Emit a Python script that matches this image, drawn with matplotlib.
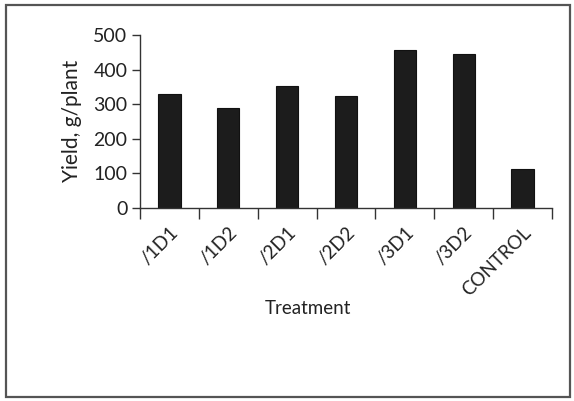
import matplotlib.pyplot as plt
from matplotlib.patches import Rectangle
from matplotlib.transforms import ScaledTranslation
import numpy as np

# Yield per plant by treatment
treatments = ['/1D1', '/1D2', '/2D1', '/2D2', '/3D1', '/3D2', 'CONTROL']
yields = [328, 288, 352, 324, 457, 444, 112]
y_ticks = [0, 100, 200, 300, 400, 500]

plt.rcParams['font.family'] = ['Lato', 'DejaVu Sans']
text_color = '#222222'

fig = plt.figure(figsize=(5.74, 4.01), dpi=100)
ax = fig.add_axes([0.2439, 0.4825, 0.7178, 0.4302])

x = np.arange(len(treatments))
ax.bar(x, yields, width=0.38, color='#1c1c1c', edgecolor='#111111', linewidth=0.8)

ax.set_xlim(-0.5, len(treatments) - 0.5)
ax.set_ylim(0, 500)
ax.set_yticks(y_ticks)
ax.tick_params(axis='y', direction='out', length=6, width=1, colors='#333333',
               labelsize=14, labelcolor=text_color, pad=3)

# tick marks sit between bars, labels under the bars
ax.set_xticks(np.arange(len(treatments) + 1) - 0.5, minor=True)
ax.set_xticks(x)
ax.set_xticklabels(treatments, rotation=45, ha='right', va='top', fontsize=13.5,
                   color=text_color)
ax.tick_params(axis='x', which='major', length=0, pad=12)
ax.tick_params(axis='x', which='minor', direction='out', length=8, width=1,
               colors='#333333')
offset = ScaledTranslation(12 / 100, 0, fig.dpi_scale_trans)
for lbl in ax.get_xticklabels():
    lbl.set_transform(lbl.get_transform() + offset)

for side in ['top', 'right']:
    ax.spines[side].set_visible(False)
for side in ['left', 'bottom']:
    ax.spines[side].set_color('#333333')
    ax.spines[side].set_linewidth(1)

ax.set_ylabel('Yield, g/plant', fontsize=15, color=text_color, labelpad=8)
fig.text(308 / 574, 1 - 308 / 401, 'Treatment', fontsize=13.5, color=text_color,
         ha='center', va='center')

# outer frame around the figure
fig.patches.append(Rectangle((6 / 574, 4 / 401), 564 / 574, 392 / 401,
                             transform=fig.transFigure, fill=False,
                             edgecolor='#555555', linewidth=1.6))

fig.savefig('out.png', dpi=100)
